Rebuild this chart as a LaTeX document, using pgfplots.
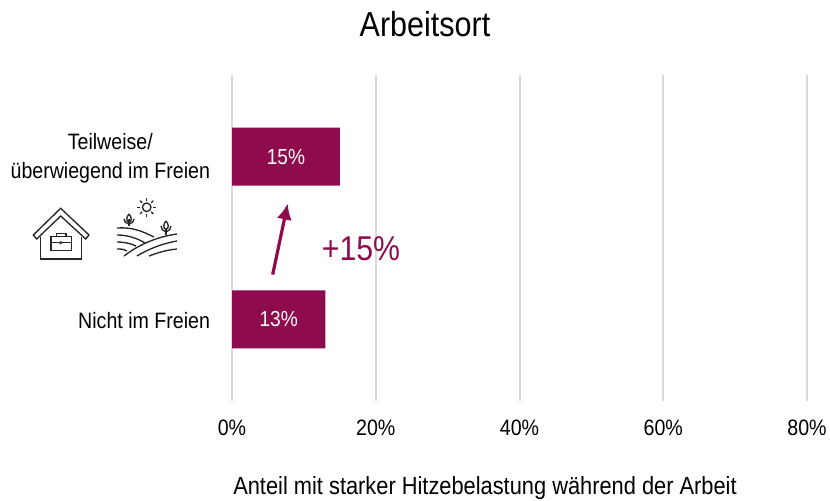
\documentclass[border=0pt]{standalone}
\usepackage{pgfplots}
\usepackage{fontspec}
\usetikzlibrary{arrows.meta,calc}
\setmainfont{Liberation Sans}[FakeStretch=0.88]
\pgfplotsset{compat=1.18}
\definecolor{wine}{HTML}{8E0B4E}
\definecolor{gridc}{HTML}{D9D9D9}
\begin{document}
\begin{tikzpicture}[x=0.75pt,y=0.75pt]
\begin{axis}[
  at={(232*0.75pt,99.5*0.75pt)},anchor=south west,
  scale only axis,width=431.25pt,height=243.75pt,
  xmin=0,xmax=80,ymin=-0.5,ymax=1.5,
  axis line style={draw=none},
  xtick={0,20,40,60,80},
  xticklabel={\pgfmathprintnumber{\tick}\%},
  /pgf/number format/assume math mode=true,
  ytick={0,1},
  yticklabels={Nicht im Freien,{Teilweise/\\überwiegend im Freien}},
  yticklabel style={align=center,font=\fontsize{16.7}{21.8}\selectfont,xshift=-13pt,yshift=-1pt},
  xticklabel style={font=\fontsize{16.7}{20}\selectfont,yshift=-11pt},
  tick style={draw=none},
  xmajorgrids,
  major grid style={draw=gridc,line width=1.5pt},
  clip=false,
]
\addplot[xbar,bar width=43.5pt,draw=none,fill=wine,bar shift=0pt,
  nodes near coords={\pgfmathprintnumber{\pgfplotspointmeta}\%},
  nodes near coords style={anchor=center,text=white,font=\fontsize{16.3}{20}\selectfont,
    /pgf/number format/assume math mode=true},
  point meta=x,
  visualization depends on={x/2 \as \halfx},
  every node near coord/.append style={shift={(axis direction cs:-\halfx,0)}},
] coordinates {(13,0) (15,1)};
\draw[-{Latex[length=12pt,width=11.5pt]},draw=wine,fill=wine,line width=2.4pt] (axis cs:5.66,0.275) -- (axis cs:7.75,0.712);
\end{axis}
\node[font=\fontsize{26}{32}\selectfont] at (425,476) {Arbeitsort};
\node[font=\fontsize{18.6}{22}\selectfont] at (485,12) {Anteil mit starker Hitzebelastung während der Arbeit};
\node[text=wine,font=\fontsize{25.8}{30}\selectfont] at (361,251) {+15\%};
% icons (decorative), coordinates in px with y from the top
\begin{scope}[yshift=375pt,y=-0.75pt,line width=1pt,draw=black!85]
  \draw (33.3,235) -- (60.7,208.3) -- (89,235) -- (85.7,239) -- (60.7,216) -- (36.7,239) -- cycle;
  \draw (40.7,237) -- (40.7,259) -- (81.7,259) -- (81.7,237);
  \draw (51,236.7) rectangle (71.7,250.7);
  \draw (51,242.7) -- (71.7,242.7);
  \draw (56.7,236.7) -- (56.7,233.3) -- (66,233.3) -- (66,236.7);
  \fill[white,draw=black!85,line width=0.6pt] (60.7,242.7) circle (1.2);
  % sun
  \draw (146.7,207.3) circle [radius=3.2pt];
  \foreach \a in {0,45,...,315} \draw ($(146.7,207.3)+(\a:4.8pt)$) -- ($(146.7,207.3)+(\a:7pt)$);
  % trees
  \draw (129,226) -- (129,219);
  \draw (129,214) .. controls (126,217) and (126,222) .. (129,222) .. controls (132,222) and (132,217) .. (129,214);
  \draw (124,219) .. controls (124,222) and (126,223) .. (129,224) .. controls (132,223) and (134,222) .. (134,219);
  \draw (166,235) -- (166,228);
  \draw (166,221) .. controls (163,224) and (163,229) .. (166,229) .. controls (169,229) and (169,224) .. (166,221);
  \draw (161,226) .. controls (161,229) and (163,231) .. (166,232) .. controls (169,231) and (171,229) .. (171,226);
  % field lines
  \draw (117,228) .. controls (132,227) and (142,231) .. (154,237);
  \draw (117,235) .. controls (127,235) and (137,238) .. (145,243);
  \draw (117,242) .. controls (123,242) and (130,243) .. (136,246);
  \draw (117,249) .. controls (120,249) and (124,249) .. (127,251);
  \draw (124,256) .. controls (137,246) and (155,237) .. (177,234);
  \draw (137,256) .. controls (147,250) and (160,244) .. (177,241);
  \draw (149,256) .. controls (157,253) and (166,250) .. (177,249);
\end{scope}
\pgfresetboundingbox
\path[use as bounding box] (0,0) rectangle (830,500);
\end{tikzpicture}
\end{document}
